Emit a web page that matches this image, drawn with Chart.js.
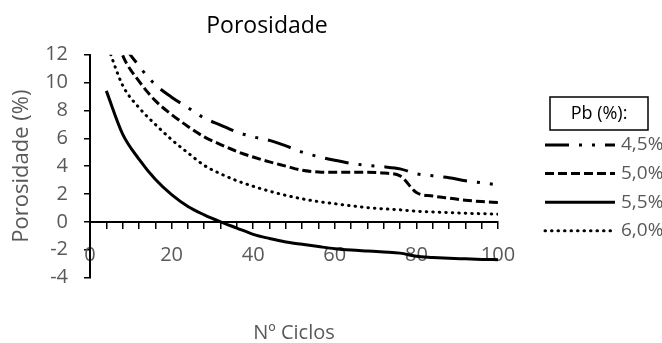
<!DOCTYPE html>
<html>
<head>
<meta charset="utf-8">
<script src="https://cdn.jsdelivr.net/npm/chart.js@4"></script>
<style>
  html, body { margin: 0; padding: 0; background: #fff; }
</style>
</head>
<body>
<canvas id="porosidade" width="662" height="343"></canvas>
<script>
// dados
var ciclos = [4, 8, 12, 16, 20, 24, 28, 32, 36, 40, 44, 48, 52, 56, 60, 64, 68, 72, 76, 80, 84, 88, 92, 96, 100];
var pb45 = [17.0, 13.0, 11.2, 9.85, 8.95, 8.2, 7.45, 6.95, 6.45, 6.1, 5.85, 5.45, 5.0, 4.68, 4.42, 4.2, 4.05, 3.95, 3.8, 3.45, 3.3, 3.17, 2.95, 2.8, 2.65];
var pb50 = [15.5, 11.95, 10.1, 8.7, 7.7, 6.85, 6.1, 5.55, 5.05, 4.65, 4.3, 4.0, 3.7, 3.58, 3.55, 3.55, 3.55, 3.5, 3.3, 2.1, 1.85, 1.7, 1.55, 1.45, 1.38];
var pb55 = [9.4, 6.3, 4.5, 3.05, 1.95, 1.1, 0.5, 0.0, -0.45, -0.9, -1.2, -1.45, -1.62, -1.78, -1.93, -2.03, -2.1, -2.17, -2.25, -2.48, -2.56, -2.62, -2.66, -2.7, -2.72];
var pb60 = [12.9, 9.8, 8.2, 7.0, 5.9, 4.95, 4.05, 3.45, 2.95, 2.55, 2.2, 1.9, 1.65, 1.45, 1.3, 1.15, 1.02, 0.93, 0.86, 0.76, 0.71, 0.66, 0.62, 0.58, 0.55];
var rotulos = ['4,5%', '5,0%', '5,5%', '6,0%'];
var ticksX = [0, 20, 40, 60, 80, 100];

var fonte = "'Open Sans', sans-serif";
var cinza = '#595959';

function pontos(valores) {
  return ciclos.map(function (c, i) { return { x: c, y: valores[i] }; });
}

function serie(label, valores, dash, cap) {
  return {
    label: label,
    data: pontos(valores),
    borderColor: '#000',
    borderWidth: 3,
    borderDash: dash,
    borderCapStyle: cap || 'butt',
    pointRadius: 0,
    fill: false,
    cubicInterpolationMode: 'monotone'
  };
}

// legenda desenhada à direita (caixa "Pb (%):")
var legenda = {
  id: 'legendaPb',
  afterDraw: function (chart) {
    var ctx = chart.ctx;
    ctx.save();
    ctx.lineWidth = 1.5;
    ctx.strokeStyle = '#000';
    ctx.setLineDash([]);
    ctx.strokeRect(550, 97, 98, 33);
    ctx.fillStyle = '#000';
    ctx.font = '18px ' + fonte;
    ctx.textAlign = 'center';
    ctx.textBaseline = 'middle';
    ctx.fillText('Pb (%):', 599, 114);
    chart.data.datasets.forEach(function (ds, i) {
      var y = 145 + i * 28.6;
      ctx.beginPath();
      ctx.setLineDash(ds.borderDash || []);
      ctx.lineCap = ds.borderCapStyle;
      ctx.lineWidth = ds.borderWidth;
      ctx.moveTo(545, y);
      ctx.lineTo(615, y);
      ctx.stroke();
      ctx.setLineDash([]);
      ctx.fillStyle = cinza;
      ctx.font = '19px ' + fonte;
      ctx.textAlign = 'left';
      ctx.fillText(ds.label, 621, y);
    });
    ctx.restore();
  }
};

var grafico = new Chart(document.getElementById('porosidade'), {
  type: 'line',
  data: {
    datasets: [
      serie(rotulos[0], pb45, [24, 10, 3, 10, 3, 10]),
      serie(rotulos[1], pb50, [9, 4]),
      serie(rotulos[2], pb55, []),
      serie(rotulos[3], pb60, [0.5, 6], 'round')
    ]
  },
  options: {
    responsive: false,
    animation: false,
    devicePixelRatio: 1,
    layout: { padding: { left: 0, right: 128, top: 0, bottom: 0 } },
    plugins: {
      legend: { display: false },
      tooltip: { enabled: false },
      title: {
        display: true,
        text: 'Porosidade',
        color: '#000',
        font: { family: fonte, size: 23, weight: 'normal' },
        padding: { top: 13, bottom: 14.1 }
      }
    },
    scales: {
      x: {
        type: 'linear',
        position: { y: 0 },
        min: 0,
        max: 100,
        border: { color: '#000', width: 2 },
        grid: { drawOnChartArea: false, drawTicks: true, tickLength: 6, color: '#000', lineWidth: 1.5 },
        ticks: {
          stepSize: 4,
          autoSkip: false,
          maxRotation: 0,
          padding: 15,
          color: cinza,
          font: { family: fonte, size: 20 },
          callback: function (v) { return ticksX.indexOf(v) >= 0 ? String(v) : ''; }
        }
      },
      xb: {
        type: 'linear',
        position: 'bottom',
        min: 0,
        max: 100,
        border: { display: false },
        grid: { display: false },
        ticks: { display: false },
        title: {
          display: true,
          text: 'Nº Ciclos',
          color: cinza,
          font: { family: fonte, size: 20 },
          padding: { top: 0, bottom: -2 }
        },
        afterFit: function (s) { s.height = 65.5; }
      },
      y: {
        position: 'left',
        min: -4,
        max: 12,
        border: { color: '#000', width: 2 },
        grid: { drawOnChartArea: false, drawTicks: true, tickLength: 6, color: '#000', lineWidth: 1.5 },
        ticks: {
          stepSize: 2,
          padding: 16,
          color: cinza,
          font: { family: fonte, size: 20 }
        },
        title: {
          display: true,
          text: 'Porosidade (%)',
          color: cinza,
          font: { family: fonte, size: 22 },
          padding: { top: 9, bottom: 0 }
        },
        afterFit: function (s) { s.width = 90; }
      },
      yR: {
        position: 'right',
        min: -4,
        max: 12,
        border: { display: false },
        grid: { display: false },
        ticks: { display: false },
        afterFit: function (s) { s.width = 36; }
      }
    }
  },
  plugins: [legenda]
});
</script>
</body>
</html>
